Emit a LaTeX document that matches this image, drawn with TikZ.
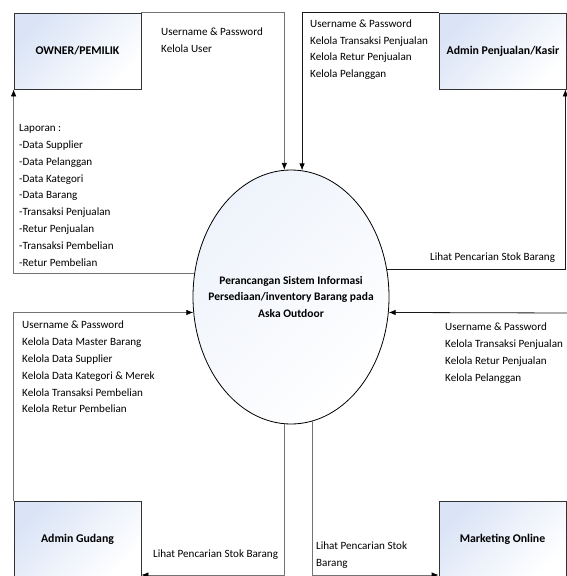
\documentclass[tikz,border=0pt]{standalone}
\usepackage{fontspec}
\setmainfont{Carlito}
\usetikzlibrary{shapes.geometric,arrows.meta}
\definecolor{boxblue}{RGB}{218,228,246}

\begin{document}
\begin{tikzpicture}[x=1pt,y=-1pt,
  entity/.style={draw=black!80,line width=.8pt,top color=boxblue,bottom color=white,shading angle=45,
    minimum width=127pt,minimum height=76pt,inner sep=0pt,font=\fontsize{11.8}{14}\selectfont\bfseries},
  proses/.style={ellipse,draw=black,line width=.8pt,top color=boxblue!45,bottom color=white,shading angle=45,
    minimum width=196pt,minimum height=254pt,inner xsep=-30pt,inner ysep=0pt,align=center,
    font=\fontsize{11.5}{16.5}\selectfont\bfseries},
  flow/.style={draw=black!55,line width=.8pt,-{Latex[length=7pt,width=5.5pt,color=black]}},
  flowdark/.style={flow,draw=black!90},
  lbl/.style={anchor=north west,inner sep=0pt,align=left,font=\fontsize{11.1}{16.8}\selectfont}]
\useasboundingbox (0,0) rectangle (566,576);

\node[entity] (owner) at (77.5,51) {OWNER/PEMILIK};
\node[entity] (kasir) at (503,51) {Admin Penjualan/Kasir};
\node[entity] (gudang) at (77.5,539) {Admin Gudang};
\node[entity] (marketing) at (502.5,539) {Marketing Online};
\node[proses] (proses) at (291,297) {Perancangan Sistem Informasi\\Persediaan/inventory Barang pada\\Aska Outdoor};
\coordinate (kasirkanan) at (570,313);

\draw[flow] (owner.north east) -| (proses.93);
\draw[flow] (proses.166) -| (owner.south west);
\draw[flowdark] (kasir.north west) -| (proses.85);
\draw[flowdark] (proses.16.5) -| ([xshift=-1.5pt]kasir.south east);
\draw[flowdark] (kasirkanan) -- (proses.-9.5);
\draw[flow] (gudang.north west) |- (proses.189.5);
\draw[flow] (proses.267) |- ([yshift=-36pt]gudang.east);
\draw[flow] (proses.280) |- ([yshift=-36pt]marketing.west);

\node[lbl] (lbluser) at (161,28) {Username \& Password\\Kelola User};
\node[lbl,font=\fontsize{11.1}{16.4}\selectfont] (lblkasir) at (310,20) {Username \& Password\\Kelola Transaksi Penjualan\\Kelola Retur Penjualan\\Kelola Pelanggan};
\node[lbl,font=\fontsize{11.1}{16.9}\selectfont] (lbllaporan) at (19,124) {Laporan :\\-Data Supplier\\-Data Pelanggan\\-Data Kategori\\-Data Barang\\-Transaksi Penjualan\\-Retur Penjualan\\-Transaksi Pembelian\\-Retur Pembelian};
\node[lbl] (lblgudang) at (22,321) {Username \& Password\\Kelola Data Master Barang\\Kelola Data Supplier\\Kelola Data Kategori \& Merek\\Kelola Transaksi Pembelian\\Kelola Retur Pembelian};
\node[lbl] (lbllihat) at (430,253) {Lihat Pencarian Stok Barang};
\node[lbl] (lblkasirb) at (445,323) {Username \& Password\\Kelola Transaksi Penjualan\\Kelola Retur Penjualan\\Kelola Pelanggan};
\node[lbl] (lbllihatg) at (153,550) {Lihat Pencarian Stok Barang};
\node[lbl] (lbllihatm) at (316,542) {Lihat Pencarian Stok\\Barang};
\end{tikzpicture}
\end{document}
